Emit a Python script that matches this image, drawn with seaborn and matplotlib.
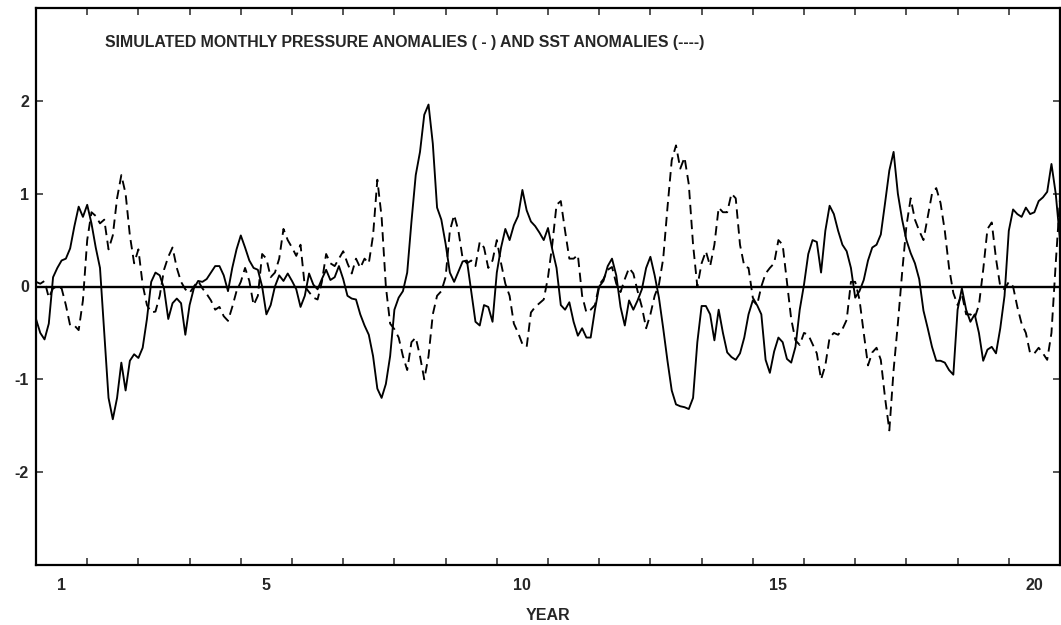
import numpy as np
import pandas as pd
import matplotlib
matplotlib.use("Agg")
import matplotlib.pyplot as plt
import seaborn as sns

# Simulated monthly anomalies, one value per month from the start of year 1
pressure = [
    -0.35, -0.50, -0.57, -0.40, 0.10, 0.20, 0.28, 0.30, 0.41, 0.65,
    0.86, 0.75, 0.88, 0.68, 0.42, 0.20, -0.50, -1.20, -1.43, -1.20,
    -0.82, -1.12, -0.80, -0.73, -0.77, -0.66, -0.35, 0.05, 0.15, 0.12,
    -0.02, -0.35, -0.18, -0.13, -0.18, -0.52, -0.20, -0.02, 0.06, 0.05,
    0.08, 0.15, 0.22, 0.22, 0.12, -0.05, 0.20, 0.40, 0.55, 0.42,
    0.28, 0.20, 0.18, 0.00, -0.30, -0.20, 0.00, 0.12, 0.06, 0.14,
    0.06, -0.03, -0.22, -0.10, 0.14, 0.02, -0.03, 0.08, 0.18, 0.07,
    0.10, 0.22, 0.08, -0.10, -0.13, -0.14, -0.30, -0.42, -0.52, -0.75,
    -1.10, -1.20, -1.05, -0.75, -0.25, -0.12, -0.05, 0.15, 0.70, 1.20,
    1.45, 1.85, 1.96, 1.54, 0.85, 0.72, 0.46, 0.15, 0.05, 0.16,
    0.27, 0.28, -0.05, -0.38, -0.42, -0.20, -0.22, -0.38, 0.15, 0.42,
    0.62, 0.50, 0.66, 0.76, 1.04, 0.82, 0.70, 0.65, 0.58, 0.50,
    0.63, 0.40, 0.20, -0.20, -0.25, -0.17, -0.38, -0.53, -0.45, -0.55,
    -0.55, -0.25, 0.00, 0.06, 0.22, 0.30, 0.12, -0.22, -0.42, -0.15,
    -0.25, -0.15, -0.03, 0.20, 0.32, 0.12, -0.12, -0.45, -0.80, -1.12,
    -1.27, -1.29, -1.30, -1.32, -1.20, -0.60, -0.21, -0.21, -0.30, -0.58,
    -0.25, -0.50, -0.71, -0.76, -0.79, -0.72, -0.55, -0.30, -0.15, -0.20,
    -0.30, -0.79, -0.93, -0.70, -0.55, -0.60, -0.78, -0.82, -0.65, -0.25,
    0.02, 0.35, 0.50, 0.48, 0.15, 0.60, 0.87, 0.78, 0.60, 0.45,
    0.38, 0.20, -0.12, -0.05, 0.07, 0.28, 0.42, 0.45, 0.56, 0.90,
    1.25, 1.45, 1.00, 0.72, 0.50, 0.36, 0.25, 0.08, -0.26, -0.45,
    -0.65, -0.80, -0.80, -0.82, -0.90, -0.95, -0.25, -0.02, -0.25, -0.38,
    -0.30, -0.50, -0.80, -0.68, -0.65, -0.72, -0.45, -0.10, 0.60, 0.83,
    0.78, 0.75, 0.85, 0.78, 0.80, 0.92, 0.96, 1.02, 1.32, 1.00,
    0.50,
]

sst = [
    0.05, 0.03, 0.06, -0.12, -0.02, 0.00, -0.02, -0.20, -0.42, -0.42,
    -0.47, -0.15, 0.50, 0.80, 0.76, 0.68, 0.72, 0.40, 0.55, 0.95,
    1.20, 1.00, 0.55, 0.25, 0.40, 0.02, -0.20, -0.28, -0.27, -0.10,
    0.18, 0.32, 0.42, 0.20, 0.05, -0.03, -0.07, 0.00, 0.06, -0.02,
    -0.08, -0.15, -0.25, -0.22, -0.32, -0.37, -0.22, -0.05, 0.05, 0.20,
    0.06, -0.20, -0.10, 0.35, 0.30, 0.10, 0.15, 0.30, 0.62, 0.50,
    0.42, 0.33, 0.45, 0.00, -0.06, -0.12, -0.14, 0.05, 0.35, 0.25,
    0.22, 0.30, 0.38, 0.25, 0.14, 0.30, 0.20, 0.30, 0.25, 0.55,
    1.15, 0.75, 0.00, -0.40, -0.46, -0.55, -0.75, -0.90, -0.60, -0.55,
    -0.75, -1.00, -0.75, -0.30, -0.10, -0.05, 0.10, 0.60, 0.77, 0.60,
    0.30, 0.25, 0.28, 0.22, 0.48, 0.42, 0.20, 0.28, 0.50, 0.25,
    0.03, -0.10, -0.40, -0.50, -0.62, -0.65, -0.28, -0.22, -0.18, -0.14,
    0.10, 0.45, 0.88, 0.92, 0.60, 0.30, 0.30, 0.34, -0.10, -0.28,
    -0.25, -0.20, 0.02, 0.08, 0.18, 0.21, 0.03, -0.06, 0.08, 0.20,
    0.14, -0.05, -0.22, -0.45, -0.30, -0.10, 0.02, 0.30, 0.85, 1.36,
    1.52, 1.27, 1.39, 1.10, 0.45, 0.00, 0.25, 0.38, 0.22, 0.45,
    0.85, 0.80, 0.80, 1.00, 0.95, 0.45, 0.22, 0.20, -0.12, -0.20,
    0.00, 0.14, 0.20, 0.25, 0.50, 0.45, 0.05, -0.35, -0.58, -0.63,
    -0.50, -0.52, -0.62, -0.72, -1.00, -0.85, -0.55, -0.50, -0.52, -0.46,
    -0.36, 0.05, 0.05, -0.14, -0.50, -0.85, -0.71, -0.66, -0.79, -1.20,
    -1.55, -0.90, -0.40, 0.15, 0.65, 0.95, 0.72, 0.60, 0.50, 0.75,
    1.00, 1.06, 0.90, 0.60, 0.20, -0.07, -0.20, -0.08, -0.30, -0.30,
    -0.34, -0.20, 0.18, 0.62, 0.69, 0.30, 0.00, -0.03, 0.05, 0.00,
    -0.22, -0.40, -0.50, -0.72, -0.72, -0.66, -0.72, -0.79, -0.50, 0.25,
    0.95,
]

year_ticks = [1, 5, 10, 15, 20]
year_labels = ["1", "5", "10", "15", "20"]
value_ticks = [-2, -1, 0, 1, 2]
value_labels = ["-2", "-1", "0", "1", "2"]
title = "SIMULATED MONTHLY PRESSURE ANOMALIES ( - ) AND SST ANOMALIES (----)"

n = len(pressure)
years = 0.5 + np.arange(n) / 12.0
df = pd.DataFrame({
    "year": np.concatenate([years, years]),
    "value": np.array(pressure + sst),
    "series": ["pressure"] * n + ["sst"] * n,
})

sns.set_style("ticks")
plt.rcParams["font.family"] = ["Liberation Sans", "DejaVu Sans"]

fig = plt.figure(figsize=(10.61, 6.25), dpi=100)
ax = fig.add_axes([36 / 1061, 60 / 625, 1024 / 1061, 557 / 625])

sns.lineplot(
    data=df, x="year", y="value", style="series",
    dashes={"pressure": "", "sst": (5, 3)},
    color="black", linewidth=1.35, legend=False,
    estimator=None, sort=False, ax=ax,
)
ax.axhline(0, color="black", linewidth=1.7, zorder=1)

ax.set_xlim(0.5, 20.5)
ax.set_ylim(-3, 3)

ax.set_xticks(year_ticks)
ax.set_xticklabels(year_labels, fontsize=11.5, fontweight="bold")
ax.set_xticks(np.arange(1.5, 20.0, 1.0), minor=True)
ax.set_yticks(value_ticks)
ax.set_yticklabels(value_labels, fontsize=11.5, fontweight="bold")

ax.tick_params(axis="x", which="major", length=0, pad=9)
ax.tick_params(axis="x", which="minor", direction="in", length=5,
               width=1.1, top=True, bottom=True)
ax.tick_params(axis="y", which="major", direction="in", length=5,
               width=1.1, left=True, right=True, pad=5)

for side in ["left", "right", "top", "bottom"]:
    ax.spines[side].set_visible(True)
    ax.spines[side].set_linewidth(1.6)
    ax.spines[side].set_color("black")

ax.set_xlabel("YEAR", fontsize=11.5, fontweight="bold", labelpad=11)
ax.set_ylabel("")

ax.text(0.067, 0.938, title, transform=ax.transAxes, fontsize=11.4,
        fontweight="bold", ha="left", va="center")

fig.savefig("out.png", dpi=100)
